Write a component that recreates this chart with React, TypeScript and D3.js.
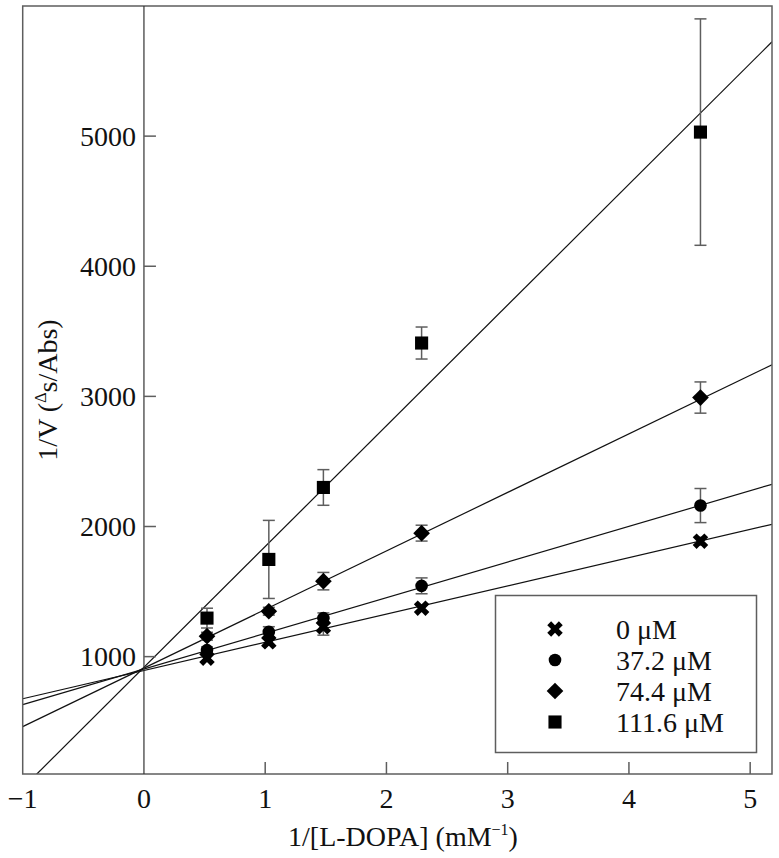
import React from "react";
import * as d3 from "d3";

const xValues = [0.52, 1.03, 1.48, 2.29, 4.59];
const seriesNames = ["0 \u03bcM", "37.2 \u03bcM", "74.4 \u03bcM", "111.6 \u03bcM"];
const seriesValues = [
  [988, 1114, 1229, 1372, 1887],
  [1050, 1190, 1296, 1544, 2161],
  [1157, 1349, 1580, 1949, 2991],
  [1296, 1747, 2300, 3410, 5031],
];
const seriesErrors = [
  [25, 25, 64, 25, 30],
  [25, 40, 40, 61, 131],
  [30, 30, 67, 61, 120],
  [76, 300, 137, 123, 870],
];
const fitSlopes = [217, 274, 450, 928];
const fitIntercepts = [893, 905, 912, 918];
const xTicks = [-1, 0, 1, 2, 3, 4, 5];
const yTicks = [1000, 2000, 3000, 4000, 5000];

const W = 779;
const H = 858;
const L = 22.7, R = 772, T = 6, B = 774;
const FONT = "'Liberation Serif', 'Times New Roman', serif";

const markerPath = (i: number): { d: string; rot: number } => {
  if (i === 0) return { d: d3.symbol(d3.symbolCross, 150)() as string, rot: 45 };
  if (i === 1) return { d: d3.symbol(d3.symbolCircle, 125)() as string, rot: 0 };
  if (i === 2) return { d: d3.symbol(d3.symbolSquare, 139)() as string, rot: 45 };
  return { d: d3.symbol(d3.symbolSquare, 172)() as string, rot: 0 };
};

export default function App() {
  const x = d3.scaleLinear().domain([-1, 5.18]).range([L, R]);
  const y = d3.scaleLinear().domain([98, 6000]).range([B, T]);
  const fmtX = (v: number) => (v < 0 ? "\u2212" + Math.abs(v) : String(v));
  const gray = "#5e5e5e";

  return (
    <svg width={W} height={H} style={{ position: "absolute", left: 0, top: 0, background: "#fff" }}>
      <defs>
        <clipPath id="plot">
          <rect x={L} y={T} width={R - L} height={B - T} />
        </clipPath>
      </defs>
      {/* fit lines */}
      <g clipPath="url(#plot)">
        {fitSlopes.map((s, i) => {
          const [x0, x1] = x.domain();
          return (
            <line
              key={i}
              x1={x(x0)}
              y1={y(fitIntercepts[i] + s * x0)}
              x2={x(x1)}
              y2={y(fitIntercepts[i] + s * x1)}
              stroke="#111"
              strokeWidth={1.2}
            />
          );
        })}
      </g>
      {/* frame */}
      <rect x={L} y={T} width={R - L} height={B - T} fill="none" stroke={gray} strokeWidth={1.5} />
      {/* zero line */}
      <line x1={x(0)} x2={x(0)} y1={T} y2={B} stroke="#333" strokeWidth={1.2} />
      {/* y ticks */}
      {yTicks.map((t) => (
        <g key={t}>
          <line x1={x(0)} x2={x(0) + 12} y1={y(t)} y2={y(t)} stroke={gray} strokeWidth={1.5} />
          <text x={x(0) - 8} y={y(t) + 9.5} textAnchor="end" fontFamily={FONT} fontSize={28} fill="#111">
            {t}
          </text>
        </g>
      ))}
      {/* x ticks */}
      {xTicks.map((t) => (
        <g key={t}>
          {t > 0 && (
            <line x1={x(t)} x2={x(t)} y1={B} y2={B - 12} stroke={gray} strokeWidth={1.5} />
          )}
          <text x={x(t)} y={808} textAnchor="middle" fontFamily={FONT} fontSize={28} fill="#111">
            {fmtX(t)}
          </text>
        </g>
      ))}
      {/* axis titles */}
      <text x={403} y={846} textAnchor="middle" fontFamily={FONT} fontSize={28} fill="#111">
        1/[L-DOPA] (mM
        <tspan dy={-11} fontSize={16}>{"\u22121"}</tspan>
        <tspan dy={11}>)</tspan>
      </text>
      <text
        transform={`translate(57, ${(T + B) / 2}) rotate(-90)`}
        textAnchor="middle"
        fontFamily={FONT}
        fontSize={28}
        fill="#111"
      >
        1/V (
        <tspan dy={-11} fontSize={16}>{"\u0394"}</tspan>
        <tspan dy={11}>s/Abs)</tspan>
      </text>
      {/* error bars */}
      {seriesValues.map((vals, si) => (
        <g key={si}>
          {vals.map((v, j) => {
            const cx = x(xValues[j]);
            const e = seriesErrors[si][j];
            return (
              <g key={j} stroke={gray} strokeWidth={1.5}>
                <line x1={cx} x2={cx} y1={y(v - e)} y2={y(v + e)} />
                <line x1={cx - 6} x2={cx + 6} y1={y(v - e)} y2={y(v - e)} />
                <line x1={cx - 6} x2={cx + 6} y1={y(v + e)} y2={y(v + e)} />
              </g>
            );
          })}
        </g>
      ))}
      {/* markers */}
      {seriesValues.map((vals, si) => {
        const m = markerPath(si);
        return (
          <g key={si}>
            {vals.map((v, j) => (
              <path
                key={j}
                d={m.d}
                transform={`translate(${x(xValues[j])}, ${y(v)}) rotate(${m.rot})`}
                fill="#000"
              />
            ))}
          </g>
        );
      })}
      {/* legend */}
      <rect x={495.5} y={595.5} width={261} height={157} fill="#fff" stroke={gray} strokeWidth={1.5} />
      {seriesNames.map((n, i) => {
        const m = markerPath(i);
        const cy = 629 + i * 31;
        return (
          <g key={n}>
            <path d={m.d} transform={`translate(555, ${cy}) rotate(${m.rot})`} fill="#000" />
            <text x={616} y={cy + 9.5} fontFamily={FONT} fontSize={28} fill="#111">
              {n}
            </text>
          </g>
        );
      })}
    </svg>
  );
}
